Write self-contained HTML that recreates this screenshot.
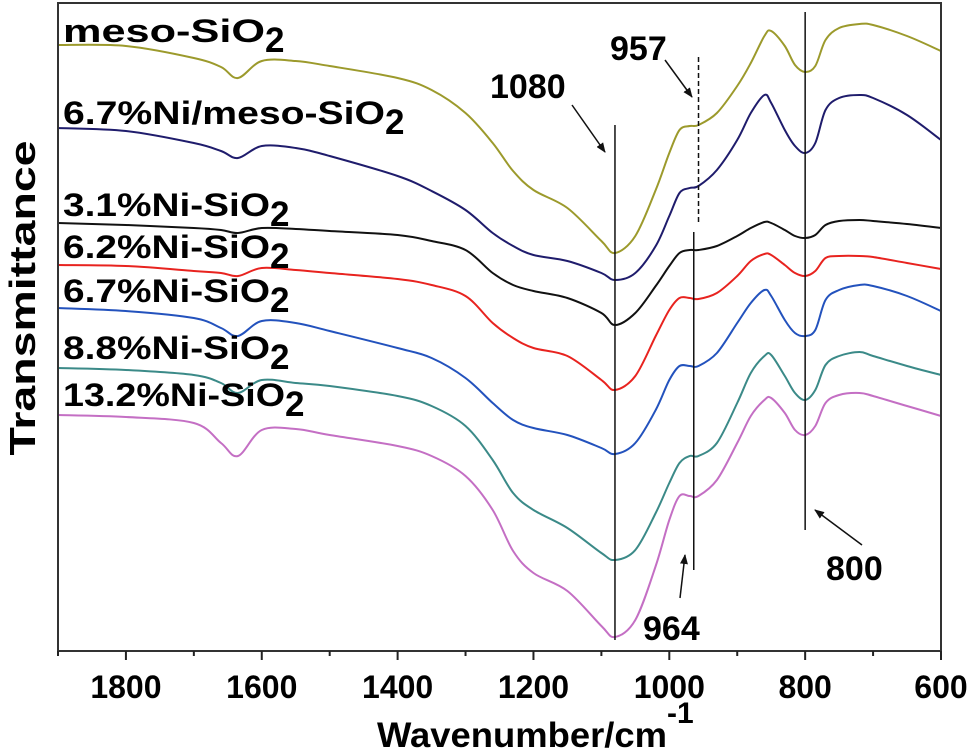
<!DOCTYPE html>
<html><head><meta charset="utf-8"><style>
html,body{margin:0;padding:0;background:#fff;}
svg{display:block;font-family:"Liberation Sans",Arial,sans-serif;font-weight:bold;}
</style></head><body>
<svg id="chart" width="969" height="754" viewBox="0 0 969 754" xmlns="http://www.w3.org/2000/svg">
<g id="plot"></g>
<rect x="58" y="3" width="883" height="648" fill="none" stroke="#333" stroke-width="2"/>
<g id="xaxis"></g>
<text x="377" y="747" font-size="35"><tspan textLength="290" lengthAdjust="spacingAndGlyphs">Wavenumber/cm</tspan><tspan dy="-24" font-size="30">-1</tspan></text>
<text transform="translate(35,298) rotate(-90)" text-anchor="middle" font-size="36" textLength="315" lengthAdjust="spacingAndGlyphs">Transmittance</text>
<g id="labels" font-size="32"></g>
<g id="annot"></g>
</svg>
<script>
const wavenumbers=[1900,1800,1700,1660,1635,1600,1550,1500,1400,1350,1300,1260,1230,1200,1150,1100,1080,1050,1020,1000,985,970,957,930,900,880,860,850,830,815,800,785,770,750,720,700,650,600];
const seriesNames=["meso-SiO2","6.7%Ni/meso-SiO2","3.1%Ni-SiO2","6.2%Ni-SiO2","6.7%Ni-SiO2","8.8%Ni-SiO2","13.2%Ni-SiO2"];
// offset transmittance (a.u., measured top-down)
const mesoSiO2=[42,43,55,64,75,58,58,63,75,87,110,140,168,187,205,238,250,233,187,150,127,123,122,110,83,60,33,28,43,62,69,63,37,25,21,22,33,48];
const ni67Meso=[125,128,140,148,155,143,145,153,173,188,207,230,243,252,258,270,277,270,243,213,190,185,183,167,137,110,92,100,127,143,150,140,107,95,92,95,112,137];
const ni31=[220,222,225,227,230,225,226,228,232,238,247,270,282,288,295,310,322,310,283,263,250,247,247,243,233,225,219,220,227,233,235,232,222,218,217,218,221,225];
const ni62=[262,263,268,270,273,265,267,270,276,282,293,320,335,345,353,377,387,373,333,307,295,295,296,290,273,258,251,252,262,270,273,268,255,253,253,254,260,266];
const ni67=[305,308,315,325,333,318,320,328,345,355,375,400,417,425,432,445,451,440,407,377,363,363,363,350,320,300,287,293,317,330,333,327,297,287,282,283,293,308];
const ni88=[365,367,372,380,390,377,380,383,393,403,423,457,490,507,525,550,557,547,510,480,460,453,453,440,400,370,353,352,373,390,397,387,362,353,349,353,363,372];
const ni132=[412,414,420,440,453,427,426,432,443,453,473,507,548,570,588,623,634,617,563,517,493,493,493,477,440,413,397,395,410,427,432,423,400,392,390,393,403,413];
const xTicks=[1800,1600,1400,1200,1000,800,600];
const xMinor=[1900,1700,1500,1300,1100,900,700];

const X0=58,X1=941,Y0=3,Y1=651;
const xDom=[1900,600],yDom=[0,648];
function xs(w){return X0+(xDom[0]-w)/(xDom[0]-xDom[1])*(X1-X0);}
function ys(v){return Y0+(v-yDom[0])/(yDom[1]-yDom[0])*(Y1-Y0);}
const NS="http://www.w3.org/2000/svg";
function mk(t,a,p){const e=document.createElementNS(NS,t);for(const k in a)e.setAttribute(k,a[k]);p.appendChild(e);return e;}
function pathFor(vals){
  const pts=wavenumbers.map((w,i)=>[xs(w),ys(vals[i])]);
  let d="M"+pts[0][0].toFixed(1)+","+pts[0][1].toFixed(1);
  for(let i=0;i<pts.length-1;i++){
    const p0=pts[Math.max(0,i-1)],p1=pts[i],p2=pts[i+1],p3=pts[Math.min(pts.length-1,i+2)];
    const c1=[p1[0]+(p2[0]-p0[0])/6,p1[1]+(p2[1]-p0[1])/6];
    const c2=[p2[0]-(p3[0]-p1[0])/6,p2[1]-(p3[1]-p1[1])/6];
    d+=" C"+c1[0].toFixed(1)+","+c1[1].toFixed(1)+" "+c2[0].toFixed(1)+","+c2[1].toFixed(1)+" "+p2[0].toFixed(1)+","+p2[1].toFixed(1);
  }
  return d;
}
const plot=document.getElementById('plot');
const allSeries=[mesoSiO2,ni67Meso,ni31,ni62,ni67,ni88,ni132];
const colors=["#9c9a2c","#1f1c6c","#111","#e8231f","#2352bd","#3b8a88","#c46fc4"];
const names=["series-meso-sio2","series-6-7-ni-meso-sio2","series-3-1-ni-sio2","series-6-2-ni-sio2","series-6-7-ni-sio2","series-8-8-ni-sio2","series-13-2-ni-sio2"];
allSeries.forEach((s,i)=>{
  const p=mk('path',{d:pathFor(s),fill:'none',stroke:colors[i],'stroke-width':2,'stroke-linejoin':'round'},plot);
  
  
});
const xa=document.getElementById('xaxis');
xTicks.forEach(t=>{
  const l=mk('line',{x1:xs(t),x2:xs(t),y1:Y1,y2:Y1+9,stroke:'#222','stroke-width':2},xa);
  
  
  const tx=mk('text',{x:xs(t),y:698,'text-anchor':'middle','font-size':32},xa);
  tx.textContent=t;
  
  
});
xMinor.forEach(t=>{
  const l=mk('line',{x1:xs(t),x2:xs(t),y1:Y1,y2:Y1+5,stroke:'#222','stroke-width':2},xa);
  
  
});
// series labels
const lab=document.getElementById('labels');
const labelPos=[[63,42],[63,124],[63,216],[63,258],[63,302],[63,359],[63,406]];
const labelW=[202,322,207,207,207,207,222];
seriesNames.forEach((n,i)=>{
  const t=mk('text',{x:labelPos[i][0],y:labelPos[i][1]},lab);
  
  
  const a=document.createElementNS(NS,'tspan');a.textContent=n.slice(0,-1);
  a.setAttribute('textLength',labelW[i]);a.setAttribute('lengthAdjust','spacingAndGlyphs');t.appendChild(a);
  const b=document.createElementNS(NS,'tspan');b.setAttribute('dy','10');b.setAttribute('font-size','35');b.textContent='2';t.appendChild(b);
});
// annotations
const an=document.getElementById('annot');
const defs=mk('defs',{},document.getElementById('chart'));
const mrk=mk('marker',{id:'ah',markerWidth:10,markerHeight:8,refX:9,refY:4,orient:'auto',markerUnits:'userSpaceOnUse'},defs);
mk('path',{d:'M0,0 L10,4 L0,8 z',fill:'#111'},mrk);
const vlines=[[1080,125,640,''],[964,232,570,''],[957,57,222,'5,3'],[800,12,530,'']];
vlines.forEach(v=>{
  const l=mk('line',{x1:xs(v[0]),x2:xs(v[0]),y1:v[1],y2:v[2],stroke:'#111','stroke-width':1.5},an);
  if(v[3])l.setAttribute('stroke-dasharray',v[3]);
  
  
});
const arrows=[[572,105,605,152],[665,60,692,97],[680,598,685,555],[862,545,815,510]];
arrows.forEach(a=>{
  const l=mk('line',{x1:a[0],y1:a[1],x2:a[2],y2:a[3],stroke:'#111','stroke-width':1.5,'marker-end':'url(#ah)'},an);
  
  
});
const alabels=[["1080",490,98],["957",610,60],["964",643,640],["800",826,580]];
alabels.forEach(a=>{
  const t=mk('text',{x:a[1],y:a[2],'font-size':34},an);
  t.textContent=a[0];
  
  
});
</script>
</body></html>
